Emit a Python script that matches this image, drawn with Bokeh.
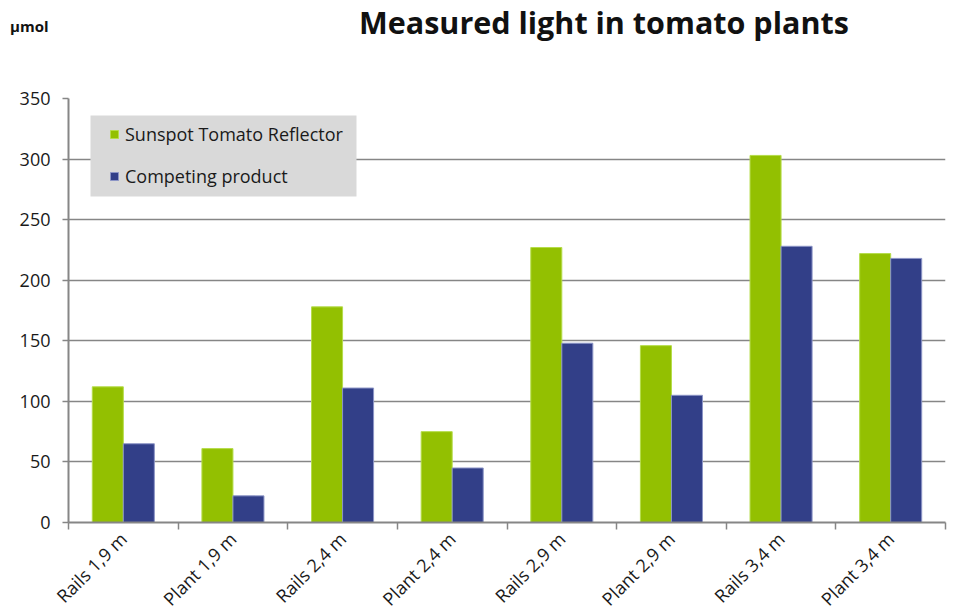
import numpy as np
from bokeh.plotting import figure
from bokeh.layouts import column
from bokeh.models import (ColumnDataSource, FixedTicker, Legend, LegendItem,
                          Range1d, BoxAnnotation, Div)
from bokeh.embed import file_html
from bokeh.resources import INLINE

categories = ["Rails 1,9 m", "Plant 1,9 m", "Rails 2,4 m", "Plant 2,4 m",
              "Rails 2,9 m", "Plant 2,9 m", "Rails 3,4 m", "Plant 3,4 m"]
sunspot = [112, 61, 178, 75, 227, 146, 303, 222]
competing = [65, 22, 111, 45, 148, 105, 228, 218]
y_ticks = [0, 50, 100, 150, 200, 250, 300, 350]
title_text = "Measured light in tomato plants"
unit_text = "µmol"

GREEN = "#93c001"
BLUE = "#323f88"
FONT = "Open Sans"

centers = np.arange(len(categories)) + 0.5
bar_w = 0.283
src = ColumnDataSource(dict(
    xg=centers - bar_w / 2, xb=centers + bar_w / 2,
    sun=sunspot, comp=competing, cat=categories))

header = Div(
    text=(f'<div style="position:relative;width:955px;height:86px;'
          f'font-family:\'{FONT}\';color:#111111;">'
          f'<span style="position:absolute;left:10px;top:16px;font-size:15px;'
          f'font-weight:bold;white-space:nowrap;">{unit_text}</span>'
          f'<span style="position:absolute;left:359px;top:1px;font-size:30.5px;'
          f'font-weight:bold;white-space:nowrap;">{title_text}</span></div>'),
    width=955, height=86, margin=(0, 0, 0, 0))

p = figure(frame_width=877, frame_height=424, output_backend="svg",
           toolbar_location=None, margin=(0, 0, 0, 0),
           x_range=Range1d(0, len(categories)), y_range=Range1d(0, 350),
           min_border_left=68, min_border_right=10, min_border_top=12,
           min_border_bottom=80)
p.outline_line_color = None

rg = p.vbar(x="xg", top="sun", width=bar_w, source=src, fill_color=GREEN,
            line_color="#b5dc4a", line_width=1)
rb = p.vbar(x="xb", top="comp", width=bar_w, source=src, fill_color=BLUE,
            line_color="#8c95c6", line_width=1)

# axes
p.yaxis.ticker = FixedTicker(ticks=y_ticks)
p.yaxis.axis_line_color = "#868686"
p.yaxis.axis_line_width = 2
p.yaxis.major_tick_line_color = "#868686"
p.yaxis.major_tick_line_width = 1.5
p.yaxis.major_tick_out = 6
p.yaxis.major_tick_in = 0
p.yaxis.minor_tick_line_color = None
p.yaxis.major_label_text_font = FONT
p.yaxis.major_label_text_font_size = "18px"
p.yaxis.major_label_text_color = "#1a1a1a"
p.yaxis.major_label_standoff = 12

p.xaxis.ticker = FixedTicker(ticks=list(centers),
                             minor_ticks=list(range(len(categories) + 1)))
p.xaxis.major_label_overrides = {float(c): cat for c, cat in zip(centers, categories)}
p.xaxis.major_tick_line_color = None
p.xaxis.major_tick_out = 0
p.xaxis.major_tick_in = 0
p.xaxis.minor_tick_line_color = "#868686"
p.xaxis.minor_tick_line_width = 1.5
p.xaxis.minor_tick_out = 7
p.xaxis.minor_tick_in = 0
p.xaxis.axis_line_color = "#868686"
p.xaxis.axis_line_width = 2
p.xaxis.major_label_orientation = np.pi / 4
p.xaxis.major_label_text_font = FONT
p.xaxis.major_label_text_font_size = "18px"
p.xaxis.major_label_text_color = "#1a1a1a"
p.xaxis.major_label_standoff = 6

p.xgrid.grid_line_color = None
p.ygrid.grid_line_color = "#868686"
p.ygrid.grid_line_width = 1.5

# legend background panel
panel = BoxAnnotation(left=0.2007, right=2.627, top=336.0, bottom=269.1,
                      fill_color="#d9d9d9", fill_alpha=1, line_color=None)
p.add_layout(panel)

legend = Legend(items=[LegendItem(label="Sunspot Tomato Reflector", renderers=[rg]),
                       LegendItem(label="Competing product", renderers=[rb])],
                location=(41, 334), orientation="vertical")
legend.background_fill_alpha = 0
legend.border_line_color = None
legend.padding = 0
legend.margin = 0
legend.spacing = 18
legend.glyph_width = 10
legend.glyph_height = 10
legend.label_height = 12
legend.label_standoff = 6
legend.label_text_font = FONT
legend.label_text_font_size = "18px"
legend.label_text_color = "#1a1a1a"
p.add_layout(legend, "center")

layout = column(header, p, spacing=0)
open("out.html", "w").write(file_html(layout, INLINE))
